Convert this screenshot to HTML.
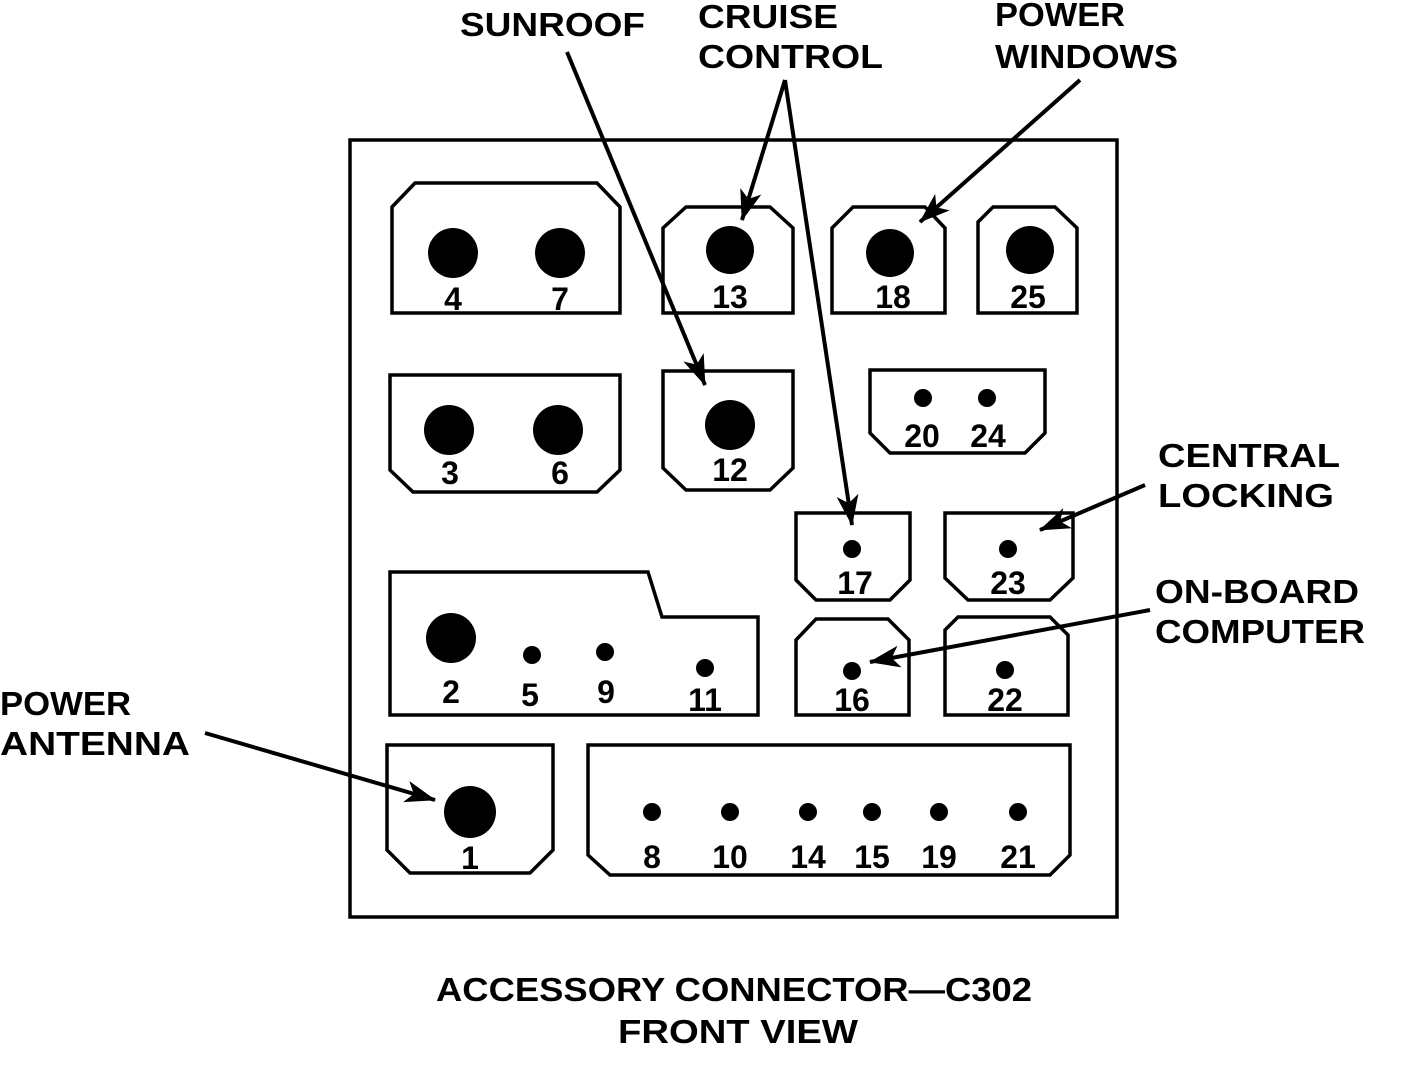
<!DOCTYPE html>
<html><head><style>body{margin:0;background:#fff}svg{display:block}</style></head>
<body>
<svg width="1408" height="1068" viewBox="0 0 1408 1068" xmlns="http://www.w3.org/2000/svg" font-family="Liberation Sans, sans-serif" font-weight="bold">
<defs>
<marker id="a" viewBox="-32 -12 34 24" refX="0" refY="0" markerWidth="34" markerHeight="24" markerUnits="userSpaceOnUse" orient="auto">
<path d="M1,0 L-30,-11 L-22,0 L-30,11 Z" fill="#000"/>
</marker>
</defs>
<g fill="none" stroke="#000" stroke-width="3.5">
<rect x="350" y="140" width="767" height="777"/>
<polygon points="392,207 415,183 597,183 620,207 620,313 392,313"/>
<polygon points="663,228 686,207 770,207 793,228 793,313 663,313"/>
<polygon points="832,228 853,207 925,207 945,228 945,313 832,313"/>
<polygon points="978,222 993,207 1055,207 1077,228 1077,313 978,313"/>
<polygon points="390,375 620,375 620,470 597,492 413,492 390,470"/>
<polygon points="663,371 793,371 793,468 770,490 686,490 663,468"/>
<polygon points="870,370 1045,370 1045,433 1025,453 890,453 870,433"/>
<polygon points="796,513 910,513 910,580 890,600 816,600 796,580"/>
<polygon points="945,513 1073,513 1073,578 1050,600 968,600 945,578"/>
<polygon points="390,572 648,572 662,617 758,617 758,715 390,715"/>
<polygon points="796,640 816,619 888,619 909,640 909,715 796,715"/>
<polygon points="945,630 958,617 1050,617 1068,635 1068,715 945,715"/>
<polygon points="387,745 553,745 553,850 530,873 410,873 387,850"/>
<polygon points="588,745 1070,745 1070,855 1050,875 610,875 588,855"/>
</g>
<g fill="#000">
<circle cx="453" cy="253" r="25"/><circle cx="560" cy="253" r="25"/>
<circle cx="730" cy="250" r="24"/><circle cx="890" cy="253" r="24"/><circle cx="1030" cy="250" r="24"/>
<circle cx="449" cy="430" r="25"/><circle cx="558" cy="430" r="25"/><circle cx="730" cy="425" r="25"/>
<circle cx="923" cy="398" r="9"/><circle cx="987" cy="398" r="9"/>
<circle cx="852" cy="549" r="9"/><circle cx="1008" cy="549" r="9"/>
<circle cx="451" cy="638" r="25"/><circle cx="532" cy="655" r="9"/><circle cx="605" cy="652" r="9"/><circle cx="705" cy="668" r="9"/>
<circle cx="852" cy="671" r="9"/><circle cx="1005" cy="670" r="9"/>
<circle cx="470" cy="812" r="26"/>
<circle cx="652" cy="812" r="9"/><circle cx="730" cy="812" r="9"/><circle cx="808" cy="812" r="9"/><circle cx="872" cy="812" r="9"/><circle cx="939" cy="812" r="9"/><circle cx="1018" cy="812" r="9"/>
</g>
<g font-size="32" text-anchor="middle">
<text x="453" y="310">4</text><text x="560" y="310">7</text>
<text x="730" y="308">13</text><text x="893" y="308">18</text><text x="1028" y="308">25</text>
<text x="450" y="484">3</text><text x="560" y="484">6</text><text x="730" y="481">12</text>
<text x="922" y="447">20</text><text x="988" y="447">24</text>
<text x="855" y="594">17</text><text x="1008" y="594">23</text>
<text x="451" y="703">2</text><text x="530" y="706">5</text><text x="606" y="703">9</text><text x="705" y="711">11</text>
<text x="852" y="711">16</text><text x="1005" y="711">22</text>
<text x="470" y="869">1</text>
<text x="652" y="868">8</text><text x="730" y="868">10</text><text x="808" y="868">14</text><text x="872" y="868">15</text><text x="939" y="868">19</text><text x="1018" y="868">21</text>
</g>
<g font-size="33">
<text x="460" y="36" textLength="185" lengthAdjust="spacingAndGlyphs">SUNROOF</text>
<text x="698" y="28" textLength="140" lengthAdjust="spacingAndGlyphs">CRUISE</text>
<text x="698" y="68" textLength="185" lengthAdjust="spacingAndGlyphs">CONTROL</text>
<text x="995" y="26" textLength="130" lengthAdjust="spacingAndGlyphs">POWER</text>
<text x="995" y="68" textLength="183" lengthAdjust="spacingAndGlyphs">WINDOWS</text>
<text x="1158" y="467" textLength="182" lengthAdjust="spacingAndGlyphs">CENTRAL</text>
<text x="1158" y="507" textLength="176" lengthAdjust="spacingAndGlyphs">LOCKING</text>
<text x="1155" y="603" textLength="204" lengthAdjust="spacingAndGlyphs">ON-BOARD</text>
<text x="1155" y="643" textLength="210" lengthAdjust="spacingAndGlyphs">COMPUTER</text>
<text x="0" y="715" textLength="131" lengthAdjust="spacingAndGlyphs">POWER</text>
<text x="0" y="755" textLength="190" lengthAdjust="spacingAndGlyphs">ANTENNA</text>
<text x="436" y="1001" textLength="596" lengthAdjust="spacingAndGlyphs">ACCESSORY CONNECTOR—C302</text>
<text x="618" y="1043" textLength="240" lengthAdjust="spacingAndGlyphs">FRONT VIEW</text>
</g>
<g stroke="#000" stroke-width="4" fill="none" marker-end="url(#a)">
<line x1="567" y1="52" x2="705" y2="385"/>
<line x1="785" y1="80" x2="742" y2="220"/>
<line x1="785" y1="80" x2="852" y2="525"/>
<line x1="1080" y1="80" x2="920" y2="222"/>
<line x1="1145" y1="485" x2="1040" y2="530"/>
<line x1="1150" y1="610" x2="870" y2="662"/>
<line x1="205" y1="733" x2="435" y2="800"/>
</g>
</svg>
</body></html>
